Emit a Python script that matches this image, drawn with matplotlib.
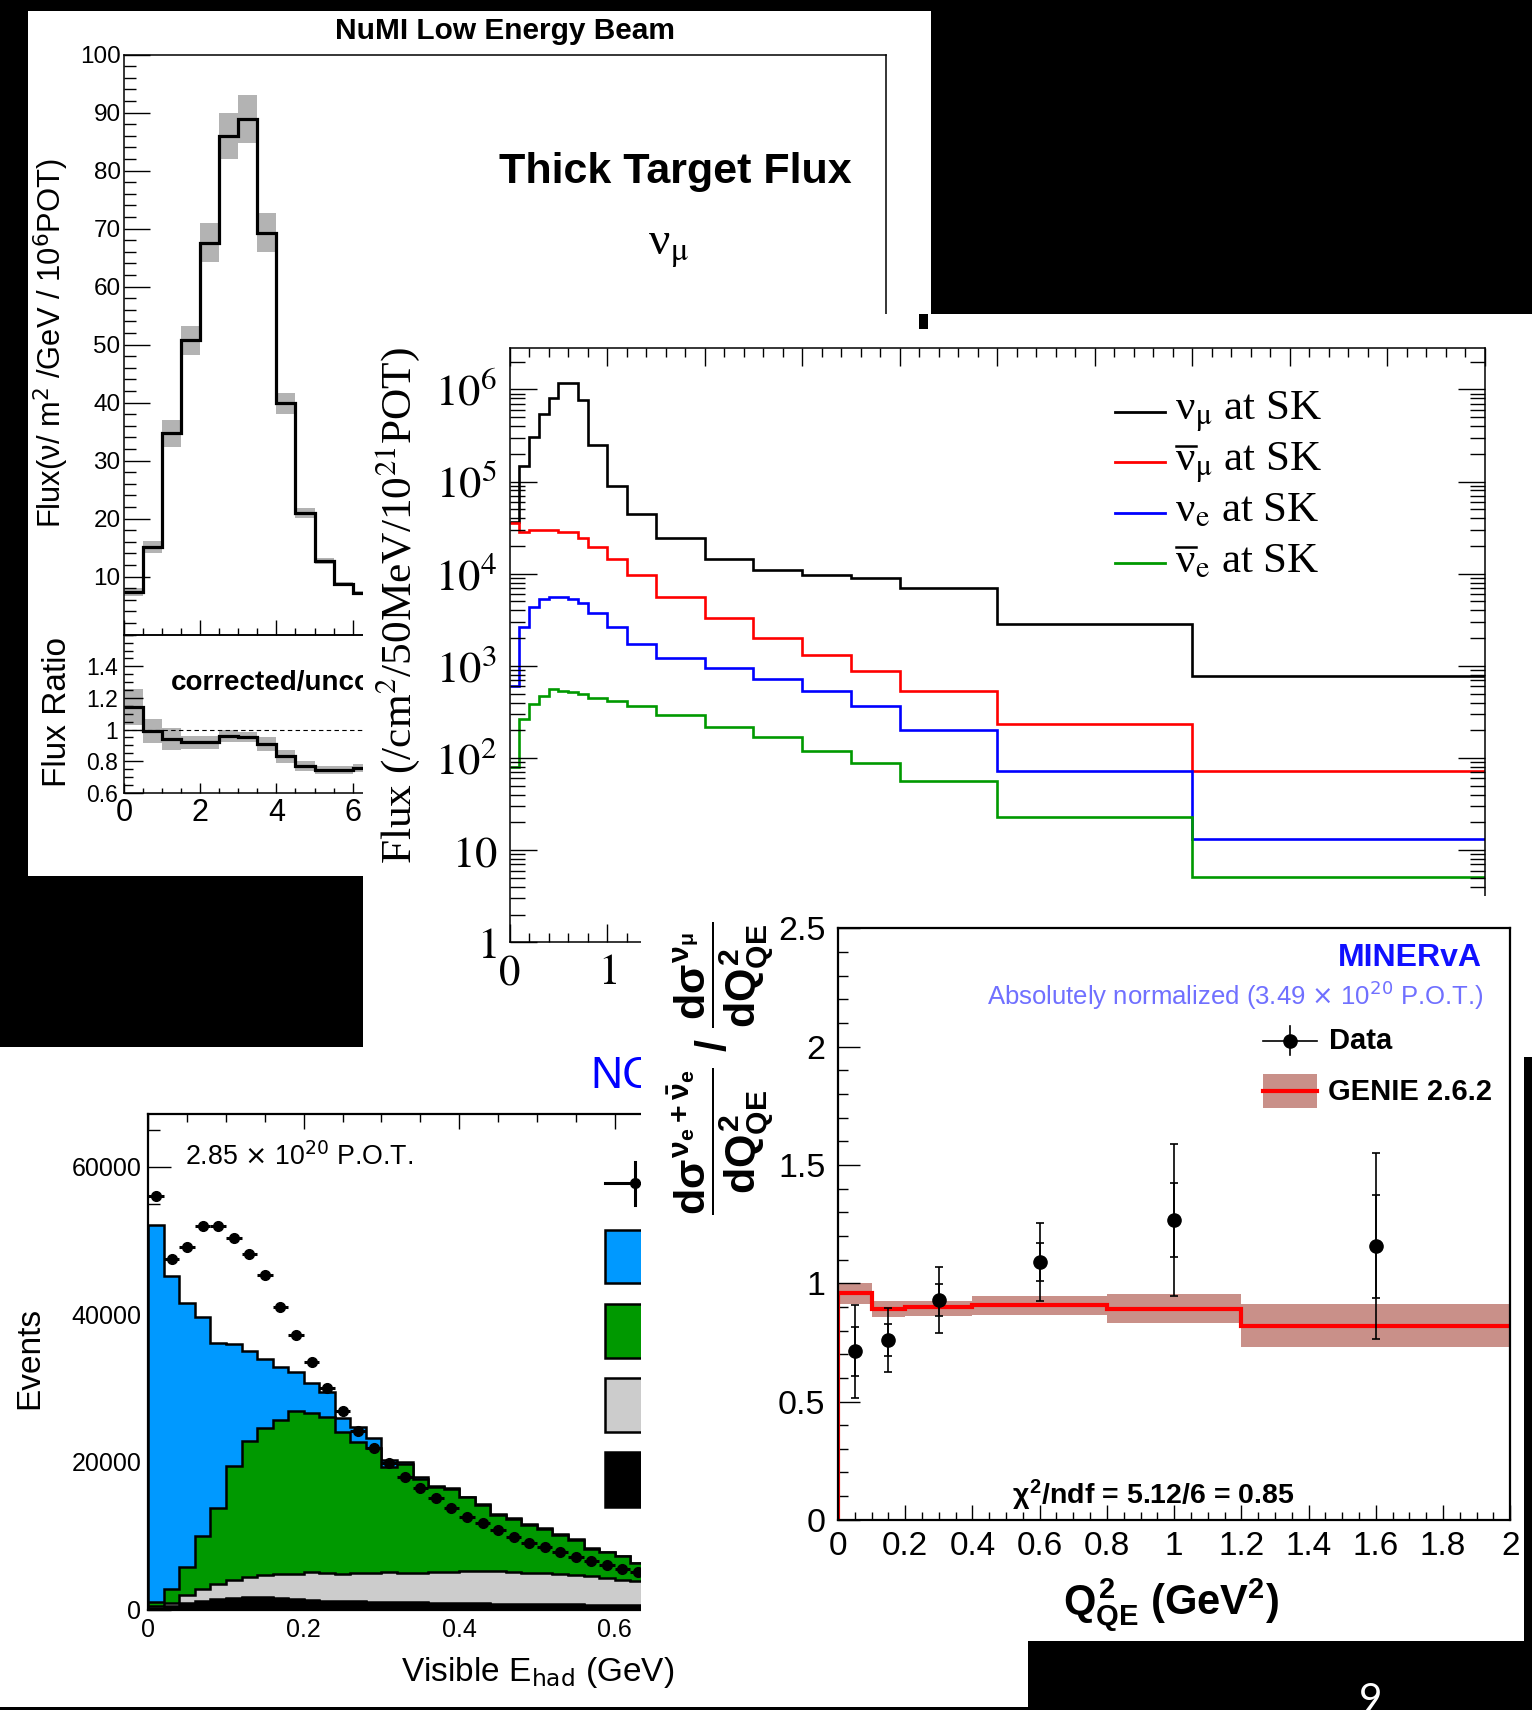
import numpy as np
import matplotlib
matplotlib.use("Agg")
import matplotlib.pyplot as plt
from matplotlib.patches import Rectangle
from matplotlib.lines import Line2D
from matplotlib.ticker import MultipleLocator, FixedLocator, LogLocator, NullFormatter, FuncFormatter

plt.rcParams['mathtext.fontset'] = 'stix'
plt.rcParams['mathtext.rm'] = 'Liberation Sans:bold'
plt.rcParams['mathtext.it'] = 'Liberation Sans:bold'
plt.rcParams['mathtext.bf'] = 'Liberation Sans:bold'
plt.rcParams['mathtext.sf'] = 'Liberation Sans:bold'
plt.rcParams['font.family'] = ['Liberation Sans', 'DejaVu Sans']

# ---------------- data ----------------
# Panel 1: NuMI low energy beam flux
numi_edges = [0, 0.5, 1.0, 1.5, 2.0, 2.5, 3.0, 3.5, 4.0, 4.5, 5.0, 5.5, 6.0, 6.5]
numi_flux = [7.4, 15.1, 34.7, 50.8, 67.6, 86.0, 88.9, 69.3, 39.9, 21.0, 12.7, 8.8, 7.2]
numi_flux_err = [0.7, 1.1, 2.4, 2.5, 3.4, 3.9, 4.1, 3.35, 1.8, 0.9, 0.5, 0.3, 0.3]
numi_ratio = [1.145, 0.99, 0.94, 0.92, 0.92, 0.96, 0.95, 0.91, 0.83, 0.77, 0.745, 0.745, 0.755]
numi_ratio_err = [0.114, 0.078, 0.067, 0.042, 0.042, 0.036, 0.032, 0.044, 0.04, 0.032, 0.026, 0.026, 0.026]

# Panel 2: SK flux
sk_edges = [0, 0.1, 0.2, 0.3, 0.4, 0.5, 0.6, 0.7, 0.8, 1.0, 1.2, 1.5, 2.0, 2.5, 3.0, 3.5, 4.0, 5.0, 7.0, 10.0]
sk_log_numu = [4.56, 5.165, 5.486, 5.735, 5.902, 6.065, 6.065, 5.881, 5.392, 4.95, 4.65, 4.384, 4.156, 4.036, 3.985, 3.95, 3.85, 3.45, 2.885]
sk_log_numubar = [4.551, 4.457, 4.47, 4.47, 4.47, 4.457, 4.448, 4.391, 4.287, 4.156, 3.991, 3.746, 3.52, 3.299, 3.116, 2.946, 2.73, 2.367, 1.859]
sk_log_nue = [2.784, 3.418, 3.642, 3.727, 3.749, 3.749, 3.727, 3.685, 3.569, 3.418, 3.234, 3.084, 2.977, 2.861, 2.732, 2.563, 2.305, 1.859, 1.12]
sk_log_nuebar = [1.904, 2.419, 2.591, 2.676, 2.749, 2.732, 2.72, 2.698, 2.655, 2.62, 2.569, 2.462, 2.333, 2.226, 2.076, 1.946, 1.748, 1.356, 0.711]
sk_labels = ['ν$_{\\mathrm{\\mu}}$ at SK', 'ν$_{\\mathrm{\\mu}}$ at SK',
             'ν$_{\\mathrm{e}}$ at SK', 'ν$_{\\mathrm{e}}$ at SK']
sk_antinu = [False, True, False, True]
sk_colors = ['black', '#ff0000', '#0000ff', '#009900']

# Panel 3: NC events vs visible hadronic energy (stack tops)
nc_edges = [0.0, 0.02, 0.04, 0.06, 0.08, 0.10, 0.12, 0.14, 0.16, 0.18, 0.20, 0.22, 0.24, 0.26, 0.28, 0.30,
            0.32, 0.34, 0.36, 0.38, 0.40, 0.42, 0.44, 0.46, 0.48, 0.50, 0.52, 0.54, 0.56, 0.58, 0.60, 0.62, 0.64]
nc_top_blue = [52120, 45250, 41510, 39700, 36080, 35990, 35090, 34000, 32920, 32240, 30660, 29530, 25910, 24780,
               23200, 20270, 20040, 18010, 16740, 16430, 15300, 14300, 12950, 12360, 11590, 11000, 10190, 9510,
               8290, 7840, 7250, 6350]
nc_top_green = [1000, 2800, 5780, 10000, 13760, 19390, 22860, 24600, 25650, 26920, 26640, 26040, 24020, 22700,
                21900, 19300, 19680, 17700, 16600, 16300, 15200, 14200, 12850, 12260, 11500, 10900, 10100, 9430,
                8220, 7780, 7190, 6300]
nc_top_grey = [500, 900, 1950, 2800, 3400, 4000, 4400, 4700, 4750, 4880, 5120, 4940, 4760, 4900, 5000, 5100,
               4900, 5000, 5100, 5150, 5200, 5260, 5200, 5100, 5000, 4900, 4800, 4690, 4500, 4300, 4050, 3800]
nc_top_black = [200, 450, 850, 1200, 1450, 1580, 1650, 1650, 1550, 1400, 1280, 1200, 1150, 1100, 1050, 1000,
                980, 950, 900, 880, 850, 820, 800, 780, 750, 720, 700, 680, 650, 620, 600, 580]
nc_data = [56050, 47470, 49100, 51990, 51990, 50320, 48150, 45300, 41050, 37210, 33590, 30070, 26910, 24240,
           21850, 19900, 18010, 16430, 15070, 13720, 12590, 11680, 10780, 9880, 9070, 8520, 7840, 7170, 6580,
           6040, 5450, 5140]

# Panel 4: MINERvA ratio
q2_edges = [0.0, 0.1, 0.2, 0.4, 0.8, 1.2, 2.0]
genie = [0.957, 0.891, 0.898, 0.908, 0.892, 0.819]
genie_hi = [1.002, 0.926, 0.926, 0.947, 0.955, 0.912]
genie_lo = [0.912, 0.859, 0.862, 0.866, 0.831, 0.729]
q2_x = [0.05, 0.15, 0.3, 0.6, 1.0, 1.6]
q2_ratio = [0.712, 0.760, 0.929, 1.091, 1.267, 1.157]
q2_err_tot = [0.197, 0.134, 0.141, 0.165, 0.323, 0.394]
q2_err_stat = [0.105, 0.066, 0.066, 0.081, 0.155, 0.218]

# ---------------- figure ----------------
W, H = 1532, 1710
fig = plt.figure(figsize=(W / 100, H / 100), dpi=100, facecolor='black')


def R(x0, y0, x1, y1):
    return [x0 / W, 1 - y1 / H, (x1 - x0) / W, (y1 - y0) / H]


def bg(x0, y0, x1, y1, z, color='white'):
    a = fig.add_axes(R(x0, y0, x1, y1), zorder=z)
    a.set_axis_off()
    a.add_patch(Rectangle((0, 0), 1, 1, transform=a.transAxes, facecolor=color, edgecolor='none'))
    return a


def T(x, y, s, z, **kw):
    return fig.text(x / W, 1 - y / H, s, zorder=z, **kw)


def box(x0, y0, x1, y1, z, **kw):
    fig.add_artist(Rectangle((x0 / W, 1 - y1 / H), (x1 - x0) / W, (y1 - y0) / H,
                             transform=fig.transFigure, zorder=z, **kw))


def seg(xs, ys, z, **kw):
    fig.add_artist(Line2D([x / W for x in xs], [1 - y / H for y in ys], transform=fig.transFigure,
                          zorder=z, **kw))


def pt(px):
    return px * 0.72


def spines(ax, lw=1.1):
    for s in ax.spines.values():
        s.set_linewidth(lw)
        s.set_color('black')


fmt_g = FuncFormatter(lambda v, p: f'{v:g}')
SERIF = ['Liberation Serif', 'DejaVu Serif']

# ======== Panel 1 ========
bg(28, 11, 931, 876, 1)
ax1 = fig.add_axes(R(124, 54.7, 886, 634.7), zorder=2)
ax1.set_facecolor('none')
ax1.set_xlim(0, 20)
ax1.set_ylim(0, 100)
lefts = numi_edges[:-1]
ax1.bar(lefts, 2 * np.array(numi_flux_err), bottom=np.array(numi_flux) - np.array(numi_flux_err),
        width=0.5, align='edge', color='#b3b3b3', linewidth=0)
ax1.stairs(numi_flux, numi_edges, color='black', linewidth=2.3, baseline=None)
ax1.yaxis.set_major_locator(FixedLocator([10, 20, 30, 40, 50, 60, 70, 80, 90, 100]))
ax1.yaxis.set_minor_locator(MultipleLocator(2))
ax1.yaxis.set_major_formatter(fmt_g)
ax1.xaxis.set_major_locator(MultipleLocator(2))
ax1.xaxis.set_minor_locator(MultipleLocator(0.5))
ax1.tick_params(axis='y', which='major', direction='in', length=pt(26), width=1.0, labelsize=17.5, pad=2.5,
                left=True, right=False)
ax1.tick_params(axis='y', which='minor', direction='in', length=pt(12), width=1.0, left=True, right=False)
ax1.tick_params(axis='x', which='major', direction='in', length=pt(15), width=1.0, labelbottom=False,
                bottom=True, top=False)
ax1.tick_params(axis='x', which='minor', direction='in', length=pt(7), width=1.0, bottom=True, top=False)
spines(ax1)

ax1r = fig.add_axes(R(124, 634.7, 886, 792.7), zorder=2)
ax1r.set_facecolor('none')
ax1r.set_xlim(0, 20)
ax1r.set_ylim(0.6, 1.6)
ax1r.bar(lefts, 2 * np.array(numi_ratio_err), bottom=np.array(numi_ratio) - np.array(numi_ratio_err),
         width=0.5, align='edge', color='#b3b3b3', linewidth=0)
ax1r.axhline(1.0, color='black', linewidth=0.8, linestyle=(0, (4, 3)))
ax1r.stairs(numi_ratio, numi_edges, color='black', linewidth=2.3, baseline=None)
ax1r.yaxis.set_major_locator(FixedLocator([0.6, 0.8, 1.0, 1.2, 1.4]))
ax1r.yaxis.set_minor_locator(MultipleLocator(0.05))
ax1r.yaxis.set_major_formatter(fmt_g)
ax1r.xaxis.set_major_locator(MultipleLocator(2))
ax1r.xaxis.set_minor_locator(MultipleLocator(0.5))
ax1r.xaxis.set_major_formatter(fmt_g)
ax1r.tick_params(axis='y', which='major', direction='in', length=pt(19), width=1.0, labelsize=16.5, pad=4,
                 left=True, right=False)
ax1r.tick_params(axis='y', which='minor', direction='in', length=pt(9), width=1.0, left=True, right=False)
ax1r.tick_params(axis='x', which='major', direction='in', length=pt(10), width=1.0, labelsize=22, pad=4,
                 bottom=True, top=False)
ax1r.tick_params(axis='x', which='minor', direction='in', length=pt(5), width=1.0, bottom=True, top=False)
spines(ax1r)

T(505, 31, 'NuMI Low Energy Beam', 2.5, ha='center', va='center', fontsize=21.5, fontweight='bold')
T(675, 172, 'Thick Target Flux', 2.5, ha='center', va='center', fontsize=31, fontweight='bold')
T(669, 249, 'ν$_{\\mathrm{\\mu}}$', 2.5, ha='center', va='center', fontsize=34, family=SERIF)
T(51, 343, r'Flux(ν/ m$^{2}$ /GeV / 10$^{6}$POT)', 2.5, ha='center', va='center', rotation=90,
  fontsize=22.2, math_fontfamily='dejavusans')
T(57, 712, 'Flux Ratio', 2.5, ha='center', va='center', rotation=90, fontsize=24)
T(171, 683, 'corrected/uncorrected', 2.5, ha='left', va='center', fontsize=20, fontweight='bold')

# ======== Panel 2 ========
bg(363, 314, 1532, 1047, 3)
ax2 = fig.add_axes(R(509.5, 348, 1485, 942.3), zorder=4)
ax2.set_facecolor('none')
ax2.set_yscale('log')
ax2.set_xlim(0, 10)
ax2.set_ylim(1, 10 ** 6.449)
for logs, col in zip([sk_log_numu, sk_log_numubar, sk_log_nue, sk_log_nuebar], sk_colors):
    ax2.stairs(10 ** np.array(logs), sk_edges, color=col, linewidth=1.9, baseline=None)
ax2.yaxis.set_major_locator(FixedLocator([1, 10, 1e2, 1e3, 1e4, 1e5, 1e6]))
ax2.yaxis.set_major_formatter(FuncFormatter(
    lambda v, p: {1: '$1$', 10: '$10$'}.get(int(round(v)), r'$10^{%d}$' % int(round(np.log10(v))))))
ax2.yaxis.set_minor_locator(LogLocator(base=10, subs=np.arange(2, 10), numticks=30))
ax2.yaxis.set_minor_formatter(NullFormatter())
ax2.xaxis.set_major_locator(MultipleLocator(1))
ax2.xaxis.set_minor_locator(MultipleLocator(0.2))
ax2.xaxis.set_major_formatter(FuncFormatter(lambda v, p: f'${v:g}$'))
ax2.tick_params(axis='y', which='major', direction='in', length=pt(27), width=1.0, labelsize=32, pad=9,
                left=True, right=True)
ax2.tick_params(axis='y', which='minor', direction='in', length=pt(15), width=1.0, left=True, right=True)
ax2.tick_params(axis='x', which='major', direction='in', length=pt(18), width=1.0, labelsize=31, pad=8,
                bottom=True, top=True)
ax2.tick_params(axis='x', which='minor', direction='in', length=pt(9), width=1.0, bottom=True, top=True)
spines(ax2)

leg_y = [411.7, 462.2, 512.7, 563.2]
for lab, col, ly, anti in zip(sk_labels, sk_colors, leg_y, sk_antinu):
    seg([1115, 1165], [ly, ly], 4.5, color=col, linewidth=2.0)
    T(1175, ly + 9, lab, 4.5, ha='left', va='baseline', fontsize=31, family=SERIF)
    if anti:
        seg([1176, 1196], [ly + 9 - 25, ly + 9 - 25], 4.5, color='black', linewidth=1.8)
T(398, 605, r'Flux (/cm$^{2}$/50MeV/10$^{21}$POT)', 4.5, ha='center', va='center', rotation=90,
  fontsize=31.2, family=SERIF)
box(919, 314, 928, 329, 4.6, facecolor='black', edgecolor='none')

# ======== Panel 3 ========
bg(0, 1047, 1028, 1707, 5)
ax3 = fig.add_axes(R(148.3, 1114, 925.6, 1609.5), zorder=6)
ax3.set_facecolor('none')
ax3.set_axisbelow(True)
ax3.set_xlim(0, 1.0)
ax3.set_ylim(0, 67170)
for vals, col in zip([nc_top_blue, nc_top_green, nc_top_grey, nc_top_black],
                     ['#0099ff', '#009900', '#cccccc', 'black']):
    ax3.stairs(vals, nc_edges, fill=True, facecolor=col, edgecolor='black', linewidth=1.8)
nc_centers = 0.5 * (np.array(nc_edges[:-1]) + np.array(nc_edges[1:]))
ax3.errorbar(nc_centers, nc_data, xerr=0.01, fmt='o', color='black', markersize=7, elinewidth=2.2,
             capsize=0, zorder=4)
ax3.yaxis.set_major_locator(MultipleLocator(20000))
ax3.yaxis.set_minor_locator(MultipleLocator(5000))
ax3.yaxis.set_major_formatter(fmt_g)
ax3.xaxis.set_major_locator(MultipleLocator(0.2))
ax3.xaxis.set_minor_locator(MultipleLocator(0.05))
ax3.xaxis.set_major_formatter(fmt_g)
ax3.tick_params(axis='y', which='major', direction='in', length=pt(23), width=1.0, labelsize=18, pad=5,
                left=True, right=False)
ax3.tick_params(axis='y', which='minor', direction='in', length=pt(12), width=1.0, left=True, right=False)
ax3.tick_params(axis='x', which='major', direction='in', length=pt(15), width=1.0, labelsize=18, pad=6,
                bottom=True, top=True)
ax3.tick_params(axis='x', which='minor', direction='in', length=pt(8), width=1.0, bottom=True, top=True)
spines(ax3, 1.6)

T(185, 1157, r'2.85 $\times$ 10$^{20}$ P.O.T.', 6.5, ha='left', va='center', fontsize=19.3,
  math_fontfamily='dejavusans')
T(30, 1358, 'Events', 6.5, ha='center', va='center', rotation=90, fontsize=24)
T(401, 1672, r'Visible E$_{\mathrm{had}}$ (GeV)', 6.5, ha='left', va='center', fontsize=24,
  math_fontfamily='dejavusans')
T(590, 1077, 'NC', 6.5, ha='left', va='center', fontsize=32, color='#0000ff')
# clipped legend of panel 3
seg([605, 660], [1183, 1183], 6.4, color='black', linewidth=2.2)
seg([635, 635], [1162, 1205], 6.4, color='black', linewidth=2.2)
seg([635], [1183], 6.4, marker='o', markersize=7, color='black')
for (y0, y1), col in zip([(1230, 1283), (1304, 1358), (1378, 1432), (1452, 1507)],
                         ['#0099ff', '#009900', '#cccccc', 'black']):
    box(605, y0, 680, y1, 6.4, facecolor=col, edgecolor='black', linewidth=1.8)

# ======== Panel 4 ========
bg(641, 896, 1532, 1641, 7)
ax4 = fig.add_axes(R(838, 928.4, 1510.3, 1519.8), zorder=8)
ax4.set_facecolor('none')
ax4.set_xlim(0, 2)
ax4.set_ylim(0, 2.5)
band_col = '#c99089'
ax4.stairs(genie_hi, q2_edges, baseline=genie_lo, fill=True, color=band_col, linewidth=0)
ax4.stairs(genie, q2_edges, color='#ff0000', linewidth=3.0, baseline=None)
ax4.plot([q2_edges[0], q2_edges[0]], [0, genie[0]], color='#ff0000', linewidth=3.0)
ax4.errorbar(q2_x, q2_ratio, yerr=q2_err_tot, fmt='none', ecolor='black', elinewidth=1.2, capsize=3,
             capthick=1.2)
ax4.errorbar(q2_x, q2_ratio, yerr=q2_err_stat, fmt='o', color='black', markersize=9.5, elinewidth=1.2,
             capsize=3, capthick=1.2)
ax4.yaxis.set_major_locator(MultipleLocator(0.5))
ax4.yaxis.set_minor_locator(MultipleLocator(0.1))
ax4.yaxis.set_major_formatter(fmt_g)
ax4.xaxis.set_major_locator(MultipleLocator(0.2))
ax4.xaxis.set_minor_locator(MultipleLocator(0.05))
ax4.xaxis.set_major_formatter(fmt_g)
ax4.tick_params(axis='y', which='major', direction='in', length=pt(22), width=1.0, labelsize=24.5, pad=9,
                left=True, right=False)
ax4.tick_params(axis='y', which='minor', direction='in', length=pt(10), width=1.0, left=True, right=False)
ax4.tick_params(axis='x', which='major', direction='in', length=pt(15), width=1.0, labelsize=24, pad=8,
                bottom=True, top=False)
ax4.tick_params(axis='x', which='minor', direction='in', length=pt(8), width=1.0, bottom=True, top=False)
spines(ax4, 1.6)

T(1482, 958, 'MINERvA', 8.5, ha='right', va='center', fontsize=23, fontweight='bold', color='#1010ff')
T(1484, 995, r'Absolutely normalized (3.49 $\times$ 10$^{20}$ P.O.T.)', 8.5, ha='right', va='center',
  fontsize=18.5, color='#7070ff', math_fontfamily='dejavusans')
# legend
seg([1263, 1317], [1040.5, 1040.5], 8.5, color='black', linewidth=1.2)
seg([1290, 1290], [1026, 1055], 8.5, color='black', linewidth=1.2)
seg([1290], [1040.5], 8.5, marker='o', markersize=9.5, color='black')
T(1329, 1040.5, 'Data', 8.5, ha='left', va='center', fontsize=21, fontweight='bold')
box(1263, 1074, 1317, 1108, 8.5, facecolor=band_col, edgecolor='none')
seg([1263, 1317], [1091, 1091], 8.6, color='#ff0000', linewidth=3.0)
T(1328, 1092, 'GENIE 2.6.2', 8.5, ha='left', va='center', fontsize=21, fontweight='bold')
T(1153, 1495, r'$\chi^{2}$/ndf = 5.12/6 = 0.85', 8.5, ha='center', va='center', fontsize=20.5,
  fontweight='bold', math_fontfamily='custom')
T(1171, 1605, r'$Q^{2}_{QE}$ (GeV$^{2}$)', 8.5, ha='center', va='center', fontsize=30, fontweight='bold',
  math_fontfamily='custom')
T(720, 1068, r'$\dfrac{d\sigma^{\nu_{e}+\bar{\nu}_{e}}}{dQ^{2}_{QE}}$ / $\dfrac{d\sigma^{\nu_{\mu}}}{dQ^{2}_{QE}}$',
  8.5, ha='center', va='center', rotation=90, fontsize=31, fontweight='bold', math_fontfamily='custom')

# overlay black areas
box(1524, 1057, 1532, 1641, 9, facecolor='black', edgecolor='none')
T(1371, 1682, '9', 10, ha='center', va='top', fontsize=29, color='white', family='Lato')

fig.savefig('out.png', dpi=100, facecolor='black')
